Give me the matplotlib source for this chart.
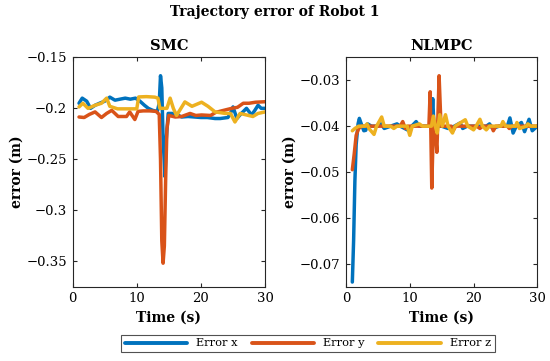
import numpy as np
import matplotlib.pyplot as plt

plt.rcParams['font.family'] = ['DejaVu Serif']

# SMC controller errors (time in s, error in m)
smc_tx = [1, 1.5, 2.2, 2.8, 3.5, 4.2, 5, 5.8, 6.6, 7.4, 8.2, 9, 9.8, 10.5, 11.2, 11.8,
          12.5, 13.2, 13.5, 13.7, 13.9, 14.1, 14.4, 14.6, 14.9, 15.5, 16.2, 17, 18, 19,
          20, 21, 22.2, 23, 24.2, 24.6, 25, 25.6, 26.3, 27.1, 27.9, 28.4, 28.9, 29.4, 30]
smc_ex = [-0.195, -0.19, -0.193, -0.2, -0.197, -0.195, -0.193, -0.189, -0.192, -0.191,
          -0.19, -0.191, -0.19, -0.193, -0.197, -0.2, -0.202, -0.203, -0.195, -0.168,
          -0.18, -0.23, -0.267, -0.23, -0.205, -0.205, -0.206, -0.2085, -0.208, -0.2085,
          -0.209, -0.209, -0.21, -0.21, -0.209, -0.205, -0.1986, -0.21, -0.205, -0.2,
          -0.2065, -0.202, -0.197, -0.2, -0.2]

smc_ty = [1, 1.8, 2.6, 3.5, 4.5, 5.3, 6.1, 7.1, 7.8, 8.4, 8.9, 9.7, 10.2, 11, 12, 13,
          13.5, 13.7, 13.9, 14.1, 14.3, 14.5, 14.7, 15, 16, 17, 18.3, 19.2, 20.1, 21.5,
          22.3, 23.2, 24.8, 25.7, 26.6, 27.5, 28.5, 30]
smc_ey = [-0.2085, -0.209, -0.206, -0.2035, -0.209, -0.205, -0.202, -0.208, -0.208,
          -0.208, -0.2035, -0.211, -0.203, -0.2025, -0.2025, -0.203, -0.206, -0.25,
          -0.33, -0.352, -0.335, -0.27, -0.22, -0.207, -0.2085, -0.208, -0.205, -0.207,
          -0.2065, -0.207, -0.204, -0.2025, -0.2, -0.199, -0.195, -0.195, -0.194, -0.1935]

smc_tz = [1, 1.6, 2.4, 3.5, 4.5, 5.3, 5.8, 7, 8.5, 10.0, 10.3, 11.5, 12.8, 13.3, 13.6,
          14.7, 15.2, 15.7, 16.2, 17.5, 18.6, 20.1, 21.1, 22.2, 23.8, 24.6, 25.3, 26.1,
          27.1, 28.1, 28.9, 30]
smc_ez = [-0.1986, -0.195, -0.2, -0.197, -0.195, -0.19, -0.198, -0.2005, -0.2005,
          -0.2005, -0.1888, -0.1885, -0.189, -0.19, -0.2, -0.2, -0.19, -0.2, -0.207,
          -0.1937, -0.198, -0.194, -0.198, -0.2035, -0.205, -0.205, -0.2134, -0.205,
          -0.2065, -0.208, -0.205, -0.2035]

# NLMPC controller errors
mpc_tx = [1, 1.2, 1.4, 1.6, 1.9, 2.1, 2.4, 2.8, 3.1, 3.4, 4, 5, 5.5, 6, 7, 8, 8.5, 9.9,
          10.3, 11, 11.5, 13, 13.4, 13.6, 13.8, 14, 14.3, 15, 16, 17, 17.9, 18.3, 19, 22,
          22.5, 23, 24, 25.3, 25.7, 26.2, 26.7, 27.5, 28, 28.7, 29.2, 30]
mpc_ex = [-0.074, -0.065, -0.052, -0.044, -0.0395, -0.0383, -0.0395, -0.041, -0.0409,
          -0.0395, -0.04, -0.04, -0.0395, -0.0405, -0.04, -0.0395, -0.04, -0.041, -0.04,
          -0.039, -0.04, -0.04, -0.0395, -0.034, -0.04, -0.043, -0.04, -0.04, -0.0405,
          -0.04, -0.0393, -0.0405, -0.04, -0.04, -0.0395, -0.0405, -0.04, -0.04, -0.0382,
          -0.0415, -0.04, -0.0392, -0.0412, -0.0385, -0.041, -0.04]

mpc_ty = [1, 1.3, 1.6, 2, 2.5, 8.5, 8.9, 9.3, 9.7, 13, 13.2, 13.45, 13.7, 14.0, 14.25,
          14.6, 14.9, 16.5, 16.8, 17.2, 20.5, 21, 21.4, 22.8, 23.1, 23.5, 25.3, 25.6,
          26, 30]
mpc_ey = [-0.0495, -0.046, -0.042, -0.0405, -0.04, -0.04, -0.039, -0.0405, -0.04, -0.04,
          -0.0325, -0.0535, -0.04, -0.041, -0.0457, -0.029, -0.04, -0.04, -0.041, -0.04,
          -0.04, -0.0405, -0.04, -0.04, -0.041, -0.04, -0.04, -0.0405, -0.04, -0.04]

mpc_tz = [1, 1.4, 2, 3, 3.3, 3.6, 4.4, 4.8, 5.6, 6, 7, 7.5, 8, 9.6, 10, 10.4, 11.5, 12,
          13.4, 13.7, 14, 14.3, 14.7, 15.1, 15.6, 16.0, 16.7, 17.1, 18.7, 19.1, 20, 20.4,
          21, 21.4, 22, 22.5, 24.3, 24.6, 25, 26.6, 26.8, 27.2, 28.3, 28.5, 29, 30]
mpc_ez = [-0.041, -0.0405, -0.04, -0.04, -0.0395, -0.0405, -0.0418, -0.04, -0.038, -0.04,
          -0.04, -0.0405, -0.04, -0.04, -0.042, -0.04, -0.0395, -0.04, -0.04, -0.0378,
          -0.04, -0.0415, -0.0375, -0.04, -0.0375, -0.04, -0.0415, -0.04, -0.0386, -0.04,
          -0.0408, -0.04, -0.0385, -0.04, -0.0408, -0.04, -0.04, -0.039, -0.04, -0.04,
          -0.0392, -0.0405, -0.04, -0.0395, -0.04, -0.04]

colors = ['#0072BD', '#D95319', '#EDB120']
labels = ['Error x', 'Error y', 'Error z']

fig = plt.figure(figsize=(5.5, 3.61), dpi=100)
ax1 = fig.add_axes([0.132, 0.206, 0.35, 0.635])
ax2 = fig.add_axes([0.629, 0.206, 0.348, 0.635])

series = [
    (ax1, [(smc_tx, smc_ex), (smc_ty, smc_ey), (smc_tz, smc_ez)], 'SMC',
     (-0.375, -0.15), [-0.35, -0.3, -0.25, -0.2, -0.15]),
    (ax2, [(mpc_tx, mpc_ex), (mpc_ty, mpc_ey), (mpc_tz, mpc_ez)], 'NLMPC',
     (-0.075, -0.025), [-0.07, -0.06, -0.05, -0.04, -0.03]),
]
lines = []
for ax, data, title, ylim, yticks in series:
    lines = []
    for (t, e), c, lab in zip(data, colors, labels):
        l, = ax.plot(t, e, color=c, lw=2.5, label=lab,
                     solid_joinstyle='round', solid_capstyle='round')
        lines.append(l)
    ax.set_xlim(0, 30)
    ax.set_ylim(*ylim)
    ax.set_xticks([0, 10, 20, 30])
    ax.set_yticks(yticks)
    ax.set_yticklabels([f'{v:g}'.replace('-', '\u2212') for v in yticks])
    ax.tick_params(direction='in', length=3, width=0.8, top=True, right=True,
                   labelsize=9.5, color='#262626', pad=4)
    for s in ax.spines.values():
        s.set_color('#262626')
        s.set_linewidth(0.8)
    ax.set_title(title, fontsize=10.5, fontweight='bold', pad=5)
    ax.set_xlabel('Time (s)', fontsize=10, fontweight='bold', labelpad=4)
    ax.set_ylabel('error (m)', fontsize=10, fontweight='bold', labelpad=2)

fig.suptitle('Trajectory error of Robot 1', fontsize=10, fontweight='bold', y=0.985)

leg = fig.legend(lines, labels, loc='center', bbox_to_anchor=(0.56, 0.0485), ncol=3,
                 fontsize=8.2, handlelength=5.5, columnspacing=1.2, handletextpad=0.8,
                 frameon=True, fancybox=False, edgecolor='#262626',
                 borderpad=0.3)
leg.get_frame().set_linewidth(0.8)
for h in leg.get_lines():
    h.set_linewidth(2.8)

fig.savefig('out.png', dpi=100)
